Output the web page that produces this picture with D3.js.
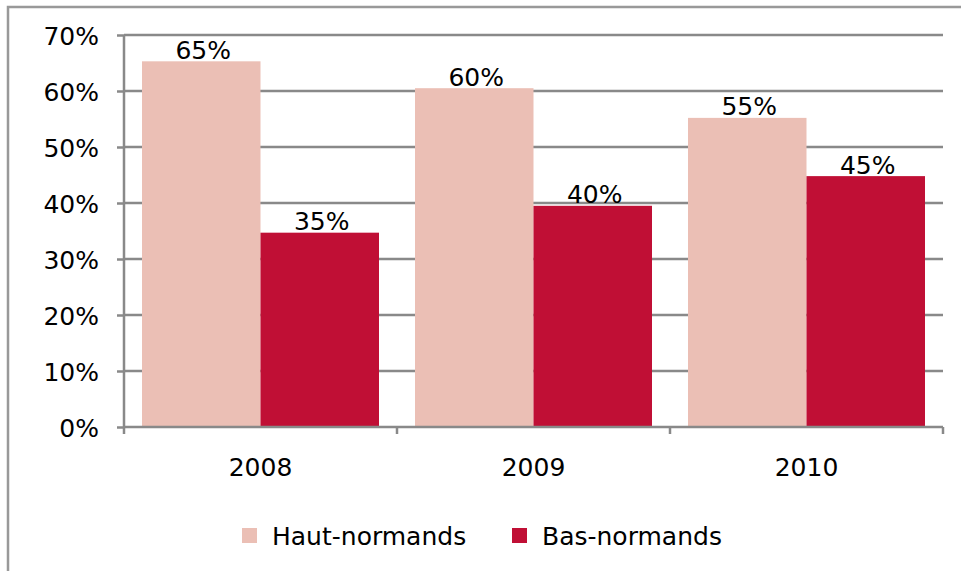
<!DOCTYPE html>
<html><head><meta charset="utf-8">
<script src="https://cdn.jsdelivr.net/npm/d3@7"></script>
<style>html,body{margin:0;padding:0;background:#fff;}svg{display:block;}</style>
</head><body>
<script>
const categories = ["2008", "2009", "2010"];
const seriesNames = ["Haut-normands", "Bas-normands"];
const hautValues = [65.3, 60.5, 55.2];
const basValues = [34.7, 39.5, 44.8];
const valueLabels = [["65%", "35%"], ["60%", "40%"], ["55%", "45%"]];
const yTicks = [0, 10, 20, 30, 40, 50, 60, 70];
const colors = ["#EBBFB5", "#C00F35"];

const W = 961, H = 571;
const font = "'DejaVu Sans', Verdana, sans-serif";
const fs = 25;
const svg = d3.select("body").append("svg").attr("width", W).attr("height", H);

// outer border
svg.append("rect").attr("x", 8).attr("y", 7).attr("width", W + 20).attr("height", H + 20)
  .attr("fill", "none").attr("stroke", "#999").attr("stroke-width", 2.5);

const x0 = 124, x1 = 943, yTop = 35, yBot = 427;
const x = d3.scaleBand().domain(categories).range([x0, x1]).paddingInner(0).paddingOuter(0);
const y = d3.scaleLinear().domain([0, 70]).range([yBot, yTop]);
const gap = 18;
const xs = d3.scaleBand().domain(seriesNames).range([gap, x.bandwidth() - gap]).padding(0);

const gray = "#898989";
// gridlines
svg.append("g").selectAll("line").data(yTicks.filter(d => d > 0)).join("line")
  .attr("x1", x0).attr("x2", x1).attr("y1", d => y(d)).attr("y2", d => y(d))
  .attr("stroke", gray).attr("stroke-width", 2.5);

// bars
const data = categories.map((c, i) => ({c, vals: [hautValues[i], basValues[i]], labels: valueLabels[i]}));
const g = svg.append("g").selectAll("g").data(data).join("g")
  .attr("transform", d => `translate(${x(d.c)},0)`);
g.selectAll("rect").data(d => d.vals.map((v, j) => ({v, j, s: seriesNames[j]}))).join("rect")
  .attr("x", d => xs(d.s)).attr("width", xs.bandwidth())
  .attr("y", d => y(d.v)).attr("height", d => yBot - y(d.v))
  .attr("fill", d => colors[d.j]);
g.selectAll("text").data(d => d.vals.map((v, j) => ({v, j, s: seriesNames[j], t: d.labels[j]}))).join("text")
  .attr("x", d => xs(d.s) + xs.bandwidth() / 2 + 2).attr("y", d => y(d.v) - 2.5)
  .attr("text-anchor", "middle").attr("font-family", font).attr("font-size", fs).attr("fill", "#000")
  .text(d => d.t);

// y axis
const ya = svg.append("g").attr("transform", `translate(${x0},0)`)
  .call(d3.axisLeft(y).tickValues(yTicks).tickSize(7).tickPadding(18).tickFormat(d => d + "%"));
ya.select(".domain").attr("stroke", gray).attr("stroke-width", 2.5).attr("d", `M0,${yTop}V${yBot}`);
ya.selectAll(".tick line").attr("stroke", gray).attr("stroke-width", 2.5);
ya.selectAll(".tick text").attr("font-family", font).attr("font-size", fs).attr("fill", "#000").attr("dy", "0.36em");

// x axis
const xa = svg.append("g").attr("transform", `translate(0,${yBot})`)
  .call(d3.axisBottom(x).tickSize(0).tickPadding(31));
xa.select(".domain").attr("stroke", gray).attr("stroke-width", 2.5).attr("d", `M${x0},0H${x1}`);
xa.selectAll(".tick text").attr("font-family", font).attr("font-size", fs).attr("fill", "#000");
xa.append("g").selectAll("line").data([x0, ...categories.map(c => x(c) + x.bandwidth())]).join("line")
  .attr("x1", d => d).attr("x2", d => d).attr("y1", 0).attr("y2", 7)
  .attr("stroke", gray).attr("stroke-width", 2.5);

// legend
const legend = svg.append("g");
const legX = [242, 512];
seriesNames.forEach((s, i) => {
  legend.append("rect").attr("x", legX[i]).attr("y", 528).attr("width", 15).attr("height", 15).attr("fill", colors[i]);
  legend.append("text").attr("x", legX[i] + 30).attr("y", 545).attr("font-family", font).attr("font-size", fs)
    .attr("fill", "#000").text(s);
});
</script>
</body></html>
